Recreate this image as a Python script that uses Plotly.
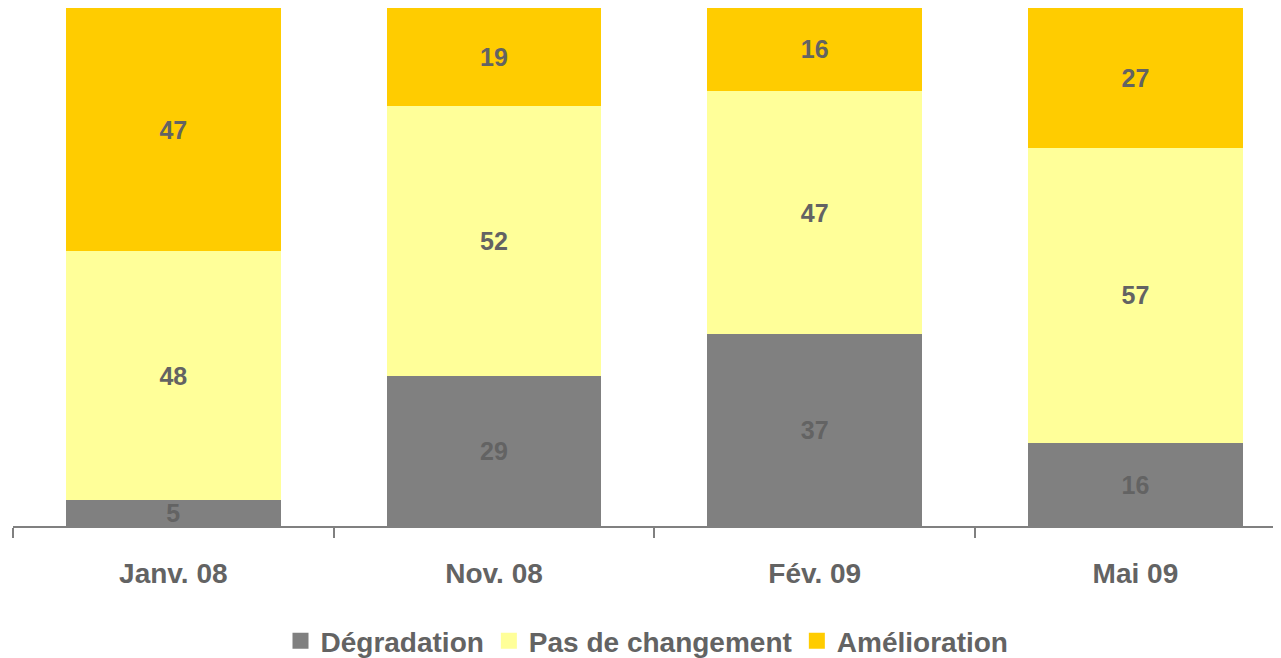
import plotly.graph_objects as go

categories = ["Janv. 08", "Nov. 08", "Fév. 09", "Mai 09"]
degradation = [5, 29, 37, 16]
pas_de_changement = [48, 52, 47, 57]
amelioration = [47, 19, 16, 27]

series = [
    ("Dégradation", degradation, "#808080"),
    ("Pas de changement", pas_de_changement, "#FFFF99"),
    ("Amélioration", amelioration, "#FFCC00"),
]

FONT = "Liberation Sans, Arial, sans-serif"
TXT = "#636363"

fig = go.Figure()
for name, vals, col in series:
    fig.add_trace(go.Bar(
        name=name, x=categories, y=vals,
        marker=dict(color=col, line=dict(width=0)),
        text=[str(v) for v in vals],
        textposition="inside", insidetextanchor="middle", textangle=0,
        constraintext="none", cliponaxis=False,
        textfont=dict(family=FONT, size=25, color=TXT, weight="bold"),
        hoverinfo="skip", showlegend=False,
    ))
# legend proxies with larger square markers
for name, vals, col in series:
    fig.add_trace(go.Scatter(
        name=name, x=[None], y=[None], mode="markers",
        marker=dict(symbol="square", size=19, color=col, line=dict(width=0)),
        showlegend=True, hoverinfo="skip",
    ))

fig.update_layout(
    barmode="stack", bargap=0.33,
    width=1281, height=658,
    margin=dict(l=5, r=8, t=0, b=140),
    paper_bgcolor="white", plot_bgcolor="white",
    showlegend=True,
    legend=dict(orientation="h", x=0.5, xanchor="center", y=-0.222, yanchor="middle",
                traceorder="normal", itemsizing="trace",
                font=dict(family=FONT, size=28, color=TXT, weight="bold"),
                itemwidth=30, tracegroupgap=0),
    font=dict(family=FONT, color=TXT),
)
fig.update_xaxes(
    range=[-0.5, 3.454],
    showline=True, linecolor="#808080", linewidth=1.5,
    ticks="outside", tickson="boundaries", ticklen=10, tickcolor="#808080", tickwidth=1.5,
    tickfont=dict(family=FONT, size=28, color=TXT, weight="bold"),
    ticklabelstandoff=22, showgrid=False,
)
fig.update_yaxes(range=[0, 100], visible=False, showgrid=False)

fig.write_html("out.html")
